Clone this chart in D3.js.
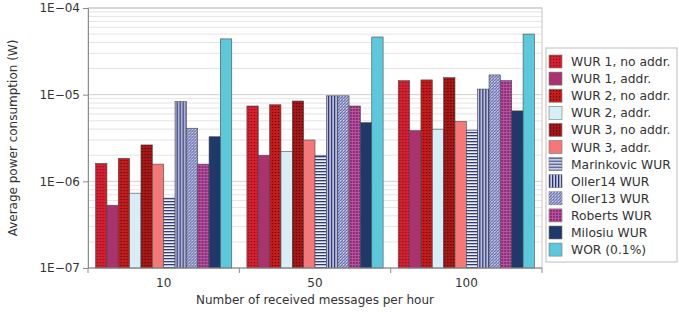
<!DOCTYPE html>
<html>
<head>
<meta charset="utf-8">
<script src="https://cdnjs.cloudflare.com/ajax/libs/d3/7.8.5/d3.min.js"></script>
<style>
body { margin: 0; background: #fff; }
svg { font-family: "DejaVu Sans", sans-serif; }
</style>
</head>
<body>
<div id="chart"></div>
<script>
var categories = ["10", "50", "100"];

var seriesNames = ["WUR 1, no addr.", "WUR 1, addr.", "WUR 2, no addr.", "WUR 2, addr.",
    "WUR 3, no addr.", "WUR 3, addr.", "Marinkovic WUR", "Oller14 WUR",
    "Oller13 WUR", "Roberts WUR", "Milosiu WUR", "WOR (0.1%)"];

// one array per series, values at 10, 50, 100 messages per hour
var wur1NoAddr = [1.61e-6, 7.4e-6, 1.45e-5];
var wur1Addr = [5.3e-7, 2.0e-6, 3.85e-6];
var wur2NoAddr = [1.84e-6, 7.65e-6, 1.48e-5];
var wur2Addr = [7.3e-7, 2.2e-6, 4.0e-6];
var wur3NoAddr = [2.63e-6, 8.45e-6, 1.57e-5];
var wur3Addr = [1.58e-6, 3.0e-6, 4.9e-6];
var marinkovic = [6.4e-7, 2.0e-6, 3.9e-6];
var oller14 = [8.3e-6, 9.7e-6, 1.16e-5];
var oller13 = [4.1e-6, 9.7e-6, 1.69e-5];
var roberts = [1.58e-6, 7.4e-6, 1.45e-5];
var milosiu = [3.27e-6, 4.75e-6, 6.5e-6];
var wor = [4.4e-5, 4.63e-5, 5.0e-5];

var seriesValues = [wur1NoAddr, wur1Addr, wur2NoAddr, wur2Addr, wur3NoAddr, wur3Addr,
    marinkovic, oller14, oller13, roberts, milosiu, wor];

var yTicks = [1e-7, 1e-6, 1e-5, 1e-4];

var W = 679, H = 312;
var margin = {top: 8, right: 137, bottom: 44, left: 88};

var svg = d3.select("#chart").append("svg")
    .attr("width", W).attr("height", H);

// fill patterns
var defs = svg.append("defs");
function dotPattern(id, bg, dot, size) {
    var p = defs.append("pattern").attr("id", id)
        .attr("patternUnits", "userSpaceOnUse")
        .attr("width", size).attr("height", size);
    p.append("rect").attr("width", size).attr("height", size).attr("fill", bg);
    p.append("rect").attr("x", 1).attr("y", 1).attr("width", 1.2).attr("height", 1.2).attr("fill", dot);
}
function stripePattern(id, bg, fg, horiz) {
    var p = defs.append("pattern").attr("id", id)
        .attr("patternUnits", "userSpaceOnUse")
        .attr("width", 3).attr("height", 3);
    p.append("rect").attr("width", 3).attr("height", 3).attr("fill", bg);
    if (horiz) p.append("rect").attr("width", 3).attr("height", 1.3).attr("fill", fg);
    else p.append("rect").attr("width", 1.3).attr("height", 3).attr("fill", fg);
}
function gridPattern(id, bg, fg) {
    var p = defs.append("pattern").attr("id", id)
        .attr("patternUnits", "userSpaceOnUse")
        .attr("width", 3).attr("height", 3);
    p.append("rect").attr("width", 3).attr("height", 3).attr("fill", bg);
    p.append("rect").attr("width", 3).attr("height", 0.8).attr("fill", fg);
    p.append("rect").attr("width", 0.8).attr("height", 3).attr("fill", fg);
}
function diagPattern(id, bg, fg) {
    var p = defs.append("pattern").attr("id", id)
        .attr("patternUnits", "userSpaceOnUse")
        .attr("width", 3).attr("height", 3);
    p.append("rect").attr("width", 3).attr("height", 3).attr("fill", bg);
    p.append("path").attr("d", "M0,3 L3,0").attr("stroke", fg).attr("stroke-width", 0.9);
    p.append("rect").attr("x", 0).attr("y", 0).attr("width", 0.8).attr("height", 0.8).attr("fill", "#fff");
}
dotPattern("p0", "#d42030", "#8e0c14", 3);
dotPattern("p2", "#c81c1c", "#5a0606", 3);
dotPattern("p4", "#a81818", "#520606", 3);
stripePattern("p6", "#eceef8", "#2e3a7a", true);
stripePattern("p7", "#c8cbe8", "#26306e", false);
diagPattern("p8", "#a6abd6", "#545c9e");
gridPattern("p9", "#8a2c78", "#c25aa8");

var fills = ["url(#p0)", "#a8336e", "url(#p2)", "#d6eef5", "url(#p4)", "#f57878",
    "url(#p6)", "url(#p7)", "url(#p8)", "url(#p9)", "#1f3a6a", "#5cc8dc"];

var x = d3.scaleBand().domain(categories)
    .range([margin.left, W - margin.right]).paddingInner(0.1).paddingOuter(0.05);
var xs = d3.scaleBand().domain(d3.range(seriesNames.length))
    .range([0, x.bandwidth()]);
var y = d3.scaleLog().domain([1e-7, 1e-4]).range([H - margin.bottom, margin.top]);

// gridlines: minor and major decades
var minor = [];
[1e-7, 1e-6, 1e-5].forEach(function(d) {
    for (var k = 2; k <= 9; k++) minor.push(d * k);
});
svg.append("g").selectAll("line").data(minor).enter().append("line")
    .attr("x1", margin.left).attr("x2", W - margin.right)
    .attr("y1", d => y(d)).attr("y2", d => y(d))
    .attr("stroke", "#e4e4e4").attr("stroke-width", 1);
svg.append("g").selectAll("line").data(yTicks).enter().append("line")
    .attr("x1", margin.left).attr("x2", W - margin.right)
    .attr("y1", d => y(d)).attr("y2", d => y(d))
    .attr("stroke", "#cfcfcf").attr("stroke-width", 1);

// plot frame
svg.append("rect")
    .attr("x", margin.left).attr("y", margin.top)
    .attr("width", W - margin.right - margin.left)
    .attr("height", H - margin.bottom - margin.top)
    .attr("fill", "none").attr("stroke", "#c8c8c8");

// bars
var groups = svg.append("g").selectAll("g").data(categories).enter().append("g")
    .attr("transform", d => "translate(" + x(d) + ",0)");
groups.selectAll("rect")
    .data((c, ci) => seriesValues.map((s, si) => ({si: si, v: s[ci]})))
    .enter().append("rect")
    .attr("x", d => xs(d.si))
    .attr("width", xs.bandwidth())
    .attr("y", d => y(d.v))
    .attr("height", d => y(1e-7) - y(d.v))
    .attr("fill", d => fills[d.si])
    .attr("stroke", "#4a4a4a").attr("stroke-width", 0.6);

// y axis
var yAxis = d3.axisLeft(y).tickValues(yTicks)
    .tickFormat(d => "1E\u2212" + String(Math.round(-Math.log10(d))).padStart(2, "0"))
    .tickSize(5).tickPadding(3);
var gy = svg.append("g").attr("transform", "translate(" + margin.left + ",0)").call(yAxis);
gy.select(".domain").attr("stroke", "#8c8c8c");
gy.selectAll(".tick line").attr("stroke", "#8c8c8c");
gy.selectAll("text").attr("font-size", 12).attr("fill", "#333")
    .attr("font-family", "DejaVu Sans");

// x axis: labels at group centres, ticks at group boundaries
var xAxisY = H - margin.bottom;
svg.append("line").attr("x1", margin.left).attr("x2", W - margin.right)
    .attr("y1", xAxisY).attr("y2", xAxisY).attr("stroke", "#8c8c8c");
var bounds = categories.slice(1).map(c => x(c) - x.step() * x.paddingInner() / 2);
bounds = [margin.left].concat(bounds).concat([W - margin.right]);
svg.append("g").selectAll("line").data(bounds).enter().append("line")
    .attr("x1", d => d).attr("x2", d => d)
    .attr("y1", xAxisY).attr("y2", xAxisY + 5).attr("stroke", "#8c8c8c");
svg.append("g").selectAll("text").data(categories).enter().append("text")
    .attr("x", d => x(d) + x.bandwidth() / 2).attr("y", xAxisY + 19)
    .attr("text-anchor", "middle").attr("font-size", 12).attr("fill", "#333")
    .text(d => d);

// axis titles
svg.append("text").attr("x", (margin.left + W - margin.right) / 2).attr("y", H - 8)
    .attr("text-anchor", "middle").attr("font-size", 12).attr("fill", "#333")
    .text("Number of received messages per hour");
svg.append("text")
    .attr("transform", "translate(17," + ((margin.top + H - margin.bottom) / 2) + ") rotate(-90)")
    .attr("text-anchor", "middle").attr("font-size", 12).attr("fill", "#333")
    .text("Average power consumption (W)");

// legend
var lg = svg.append("g").attr("transform", "translate(546,48)");
lg.append("rect").attr("width", 131).attr("height", 214)
    .attr("fill", "#fff").attr("stroke", "#bdbdbd");
var li = lg.selectAll("g").data(seriesNames).enter().append("g")
    .attr("transform", (d, i) => "translate(3," + (7 + i * 17.1) + ")");
li.append("rect").attr("width", 13).attr("height", 13)
    .attr("fill", (d, i) => fills[i]).attr("stroke", "#777").attr("stroke-width", 0.6);
li.append("text").attr("x", 22).attr("y", 11).attr("font-size", 12.3).attr("fill", "#333")
    .text(d => d);
</script>
</body>
</html>
